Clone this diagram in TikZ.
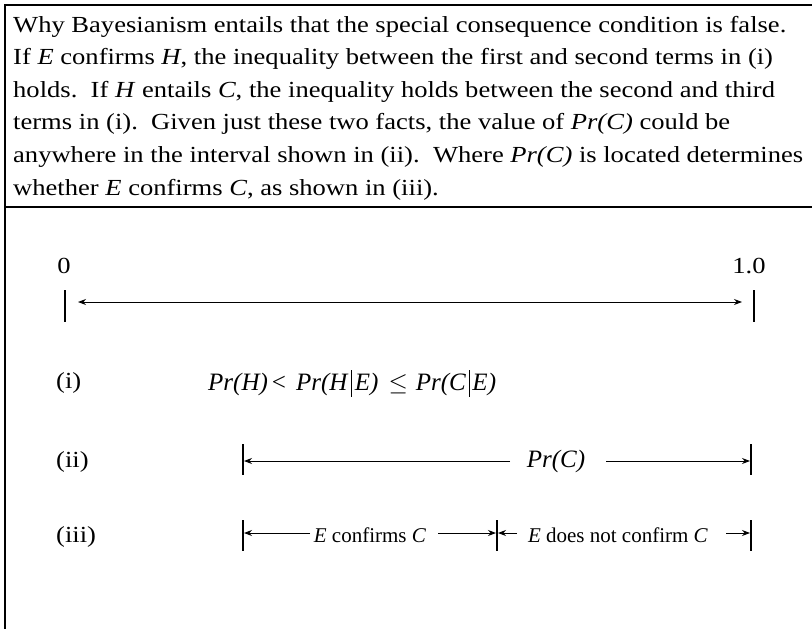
\documentclass[tikz,border=0pt]{standalone}
\usepackage{fontspec}
\setmainfont{Liberation Serif}
\usetikzlibrary{arrows.meta}
\newcommand\tallbar{\hspace{2.5pt}\rule[-6pt]{1.4pt}{27pt}\hspace{2.5pt}}
\newcommand\wide[1]{\scalebox{1.155}[1]{#1}}
\begin{document}
\begin{tikzpicture}[x=1pt,y=-1pt,
  frame/.style={line width=2.2pt},
  divider/.style={line width=1.6pt},
  tickline/.style={line width=2pt},
  arr/.style={line width=1pt,-{Stealth[length=8pt,width=6pt]}},
  twoarr/.style={line width=1pt,{Stealth[length=8pt,width=6pt]}-{Stealth[length=8pt,width=6pt]}},
  body/.style={anchor=base west,inner sep=0pt,font=\fontsize{23}{28}\selectfont},
  lab/.style={anchor=west,inner sep=0pt,font=\fontsize{23}{28}\selectfont},
  num/.style={inner sep=0pt,font=\fontsize{23}{28}\selectfont},
  formula/.style={anchor=west,inner sep=0pt,font=\fontsize{25}{30}\selectfont},
  small/.style={inner sep=0pt,font=\fontsize{21}{26}\selectfont}
]
\useasboundingbox (0,0) rectangle (812,629);
% frame
\coordinate (tl) at (5,5);
\coordinate (tr) at (812,5);
\coordinate (bl) at (5,629);
\coordinate (dl) at (5,207);
\coordinate (dr) at (812,207);
\draw[frame] (tr) -- (tl) -- (bl);
\draw[divider] (dl) -- (dr);
% caption text
\node[body] (l1) at (13,32) {\wide{Why Bayesianism entails that the special consequence condition is false.}};
\node[body] (l2) at (13,64.6) {\wide{If \textit{E} confirms \textit{H}, the inequality between the first and second terms in (i)}};
\node[body] (l3) at (13,97.2) {\wide{holds.\ \ If \textit{H} entails \textit{C}, the inequality holds between the second and third}};
\node[body] (l4) at (13,129.8) {\wide{terms in (i).\ \ Given just these two facts, the value of \textit{Pr(C)} could be}};
\node[body] (l5) at (13,162.4) {\wide{anywhere in the interval shown in (ii).\ \ Where \textit{Pr(C)} is located determines}};
\node[body] (l6) at (13,195) {\wide{whether \textit{E} confirms \textit{C}, as shown in (iii).}};
% scale 0..1
\node[num] (zero) at (64,266) {\wide{0}};
\node[num] (one) at (749,266) {\wide{1.0}};
\coordinate (z1) at (65,290); \coordinate (z2) at (65,322);
\coordinate (o1) at (754,290); \coordinate (o2) at (754,322);
\draw[tickline] (z1) -- (z2);
\draw[tickline] (o1) -- (o2);
\coordinate (za) at (78,302); \coordinate (oa) at (742,302);
\draw[twoarr] (za) -- (oa);
% (i)
\node[lab] (r1) at (56,383) {\wide{(i)}};
\node[formula] (f1) at (208,383) {\textit{Pr(H)}\hspace{4pt}<\hspace{10pt}\textit{Pr(H}\tallbar\textit{E)}\hspace{10pt}$\le$\hspace{8pt}\textit{Pr(C}\tallbar\textit{E)}};
% (ii)
\node[lab] (r2) at (56,462) {\wide{(ii)}};
\coordinate (a1) at (243,444); \coordinate (a2) at (243,475);
\coordinate (b1) at (751,444); \coordinate (b2) at (751,475);
\draw[tickline] (a1) -- (a2);
\draw[tickline] (b1) -- (b2);
\node[formula,anchor=center] (prc) at (556,461) {\textit{Pr(C)}};
\coordinate (al) at (244,461); \coordinate (ar) at (510,461);
\coordinate (bl2) at (606,461); \coordinate (br) at (750,461);
\draw[arr] (ar) -- (al);
\draw[arr] (bl2) -- (br);
% (iii)
\node[lab] (r3) at (56,537) {\wide{(iii)}};
\coordinate (c1) at (243,520); \coordinate (c2) at (243,551);
\coordinate (m1) at (497,520); \coordinate (m2) at (497,551);
\coordinate (d1) at (751,520); \coordinate (d2) at (751,551);
\draw[tickline] (c1) -- (c2);
\draw[tickline] (m1) -- (m2);
\draw[tickline] (d1) -- (d2);
\node[small] (conf) at (370,535) {\textit{E} confirms \textit{C}};
\node[small] (nconf) at (618,535) {\textit{E} does not confirm \textit{C}};
\coordinate (p1) at (310,533); \coordinate (p2) at (244,533);
\coordinate (p3) at (438,533); \coordinate (p4) at (496,533);
\coordinate (p5) at (517,533); \coordinate (p6) at (498,533);
\coordinate (p7) at (726,533); \coordinate (p8) at (750,533);
\draw[arr] (p1) -- (p2);
\draw[arr] (p3) -- (p4);
\draw[arr] (p5) -- (p6);
\draw[arr] (p7) -- (p8);
\end{tikzpicture}
\end{document}
